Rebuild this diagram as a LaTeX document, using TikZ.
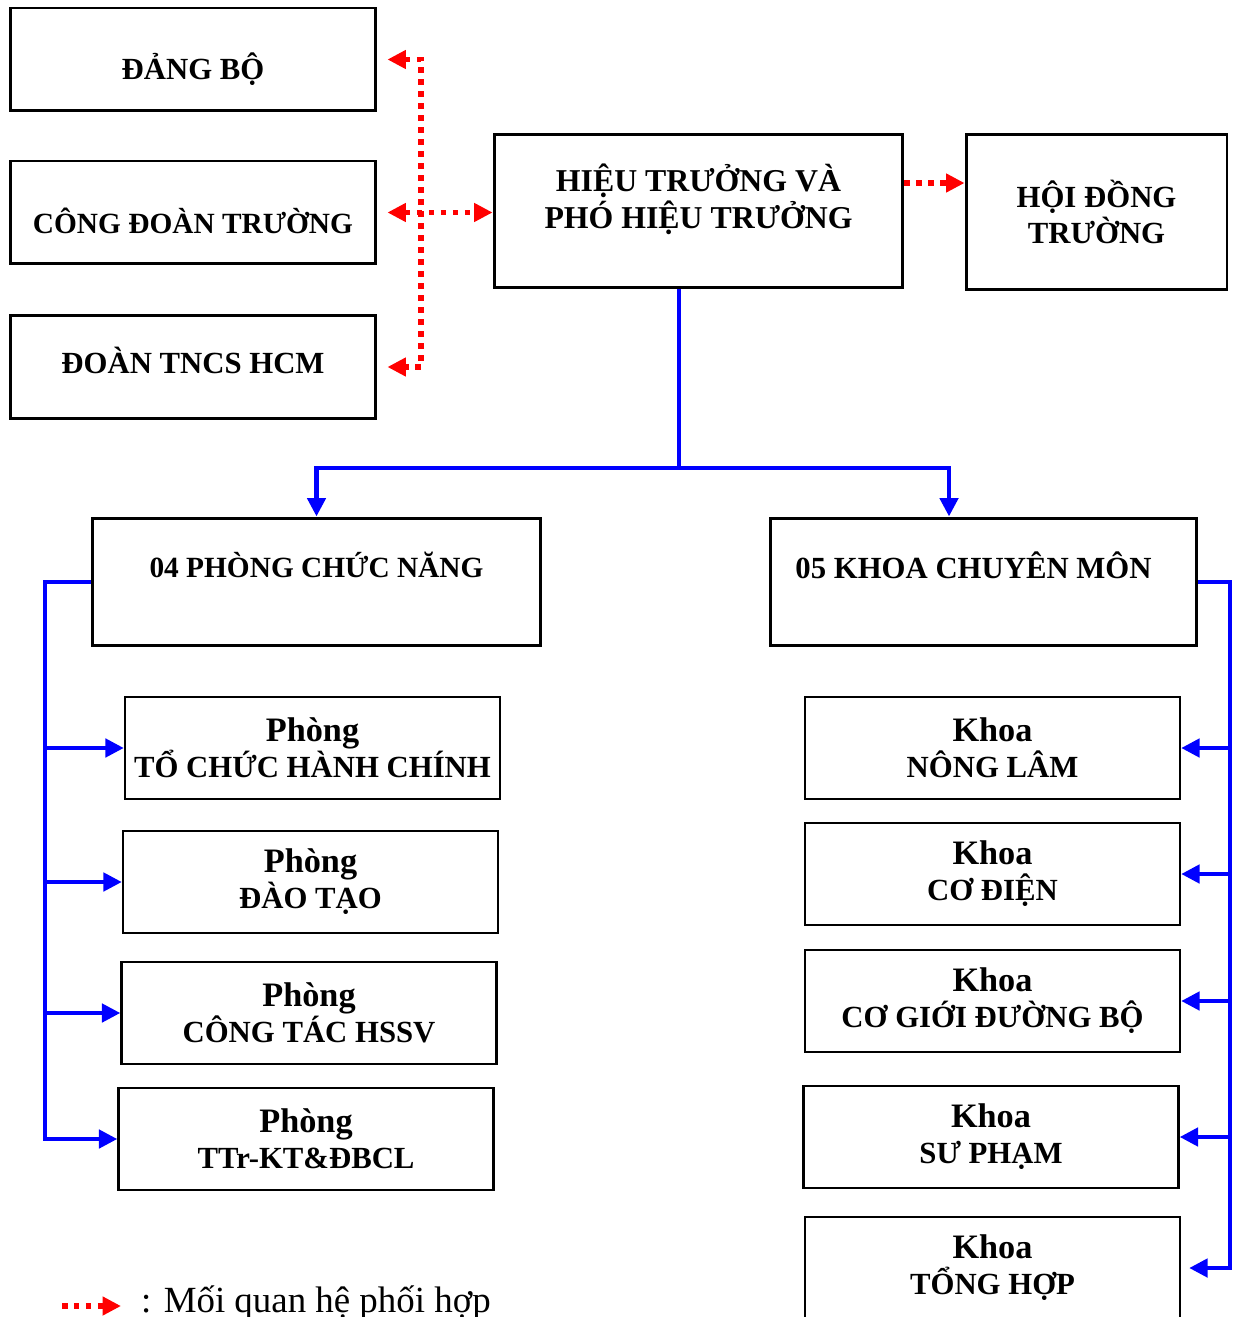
\documentclass[tikz,border=0pt]{standalone}
\usepackage{fontspec}
\setmainfont{Liberation Serif}
\usetikzlibrary{arrows.meta,positioning}
\definecolor{Blue}{RGB}{0,0,255}
\definecolor{Red}{RGB}{255,0,0}
\newcommand{\headword}[1]{{\fontsize{19.5}{20.5}\selectfont #1}}

\begin{document}
\begin{tikzpicture}[x=0.02cm,y=-0.02cm,
    >={Triangle[length=0.37cm,width=0.36cm]},
    txt/.style={align=center,font=\fontsize{17.5}{20.5}\selectfont\bfseries},
    txs/.style={txt,font=\fontsize{16.7}{20.5}\selectfont\bfseries},
    box/.style={txt,draw,line width=1.7pt,inner sep=2pt},
    org/.style={box,minimum width=7.32cm,minimum height=2.06cm},
    unit/.style={box,line width=1.3pt,minimum width=7.5cm,minimum height=2.04cm},
    bl/.style={Blue,line width=2.8pt},
    arr/.style={bl,->},
    rdot/.style={Red,line width=3.2pt,dash pattern=on 0.11cm off 0.13cm}
  ]
  \useasboundingbox (0,0) rectangle (1235,1317);

  % top row
  \node[org,label={[txt,yshift=-0.2cm]center:ĐẢNG BỘ}] (db) at (193,59.5) {};
  \node[org,label={[txs,yshift=-0.17cm]center:CÔNG ĐOÀN TRƯỜNG}] (cd) at (193,212.5) {};
  \node[org,label={[txt,yshift=0.14cm]center:ĐOÀN TNCS HCM}] (dt) at (193,367) {};
  \node[box,minimum width=8.18cm,minimum height=3.08cm,
    label={[txt,font=\fontsize{18.1}{21}\selectfont\bfseries,yshift=0.23cm]center:{HIỆU TRƯỞNG VÀ\\PHÓ HIỆU TRƯỞNG}}] (ht) at (698.5,211) {};
  \node[box,minimum width=5.22cm,minimum height=3.12cm] (hd) at (1096.5,212)
    {HỘI ĐỒNG\\TRƯỜNG};

  % coordination links
  \coordinate (rc) at (421,211);
  \draw[rdot,<->] ([xshift=0.2cm]db.east) -| (rc) |- ([xshift=0.2cm]dt.east);
  \draw[rdot,<->] ([xshift=0.2cm]cd.east) -- (cd.east -| ht.west);
  \draw[rdot,->] ([yshift=0.56cm]ht.east) -- ([yshift=0.56cm]ht.east -| hd.west);

  % second row
  \node[box,minimum width=8.98cm,minimum height=2.56cm,
    label={[txs,yshift=0.34cm]center:04 PHÒNG CHỨC NĂNG}] (ph) at (316.5,582) {};
  \node[box,minimum width=8.54cm,minimum height=2.56cm,
    label={[txt,xshift=-0.2cm,yshift=0.34cm]center:05 KHOA CHUYÊN MÔN}] (kh) at (983.5,582) {};

  \coordinate (hb) at (679,468);
  \draw[bl] (ht.south -| hb) -- (hb);
  \draw[arr] (hb) -| (ph.north);
  \draw[arr] (hb) -| ([xshift=-0.69cm]kh.north);

  % offices
  \node[unit] (p1) at (312.5,748) {\headword{Phòng}\\TỔ CHỨC HÀNH CHÍNH};
  \node[unit] (p2) at (310.5,882) {\headword{Phòng}\\ĐÀO TẠO};
  \node[unit] (p3) at (309,1013) {\headword{Phòng}\\CÔNG TÁC HSSV};
  \node[unit] (p4) at (306,1139) {\headword{Phòng}\\TTr-KT\&ĐBCL};

  \coordinate (lb) at (45,582);
  \draw[arr] (ph.west) -- (lb) |- (p4.west);
  \foreach \n in {p1,p2,p3}
    \draw[arr] (lb |- \n.west) -- (\n.west);

  % faculties
  \node[unit] (k1) at (992.5,748) {\headword{Khoa}\\NÔNG LÂM};
  \node[unit] (k2) at (992.5,874) {\headword{Khoa}\\CƠ ĐIỆN};
  \node[unit] (k3) at (992.5,1001) {\headword{Khoa}\\CƠ GIỚI ĐƯỜNG BỘ};
  \node[unit] (k4) at (991,1137) {\headword{Khoa}\\SƯ PHẠM};
  \node[unit] (k5) at (992.5,1268) {\headword{Khoa}\\TỔNG HỢP};

  \coordinate (rb) at (1230,582);
  \draw[arr] (kh.east) -- (rb) |- ([xshift=0.16cm]k5.east);
  \foreach \n in {k1,k2,k3,k4}
    \draw[arr] (rb |- \n.east) -- (\n.east);

  % legend
  \node[anchor=base west,font=\fontsize{21}{24}\selectfont] (lg) at (135,1312)
    {: Mối quan hệ phối hợp};
  \coordinate (lgs) at (62,1306);
  \draw[rdot,->] (lgs) -- ([xshift=-0.28cm]lgs -| lg.west);
\end{tikzpicture}
\end{document}
